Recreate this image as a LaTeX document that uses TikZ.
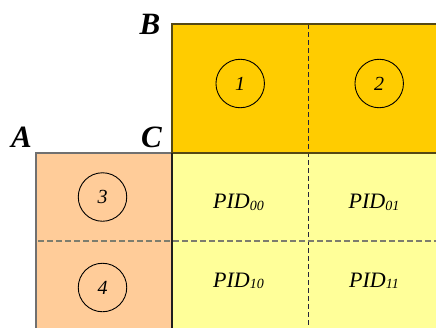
\documentclass[tikz,border=0pt]{standalone}
\usepackage{fontspec}
\setmainfont{Liberation Serif}
\begin{document}
\begin{tikzpicture}[x=1pt,y=-1pt,
  corner/.style={font=\fontsize{31}{31}\selectfont\bfseries\itshape, inner sep=0pt, anchor=base},
  marker/.style={draw=black, line width=0.9pt, circle, minimum size=48.5pt, inner sep=0pt,
                 font=\fontsize{20}{20}\selectfont\itshape},
  pid/.style={inner sep=0pt, anchor=base},
  goldedge/.style={draw={rgb,255:red,85;green,72;blue,20}, line width=1.8pt},
  greyedge/.style={draw={rgb,255:red,112;green,112;blue,112}, line width=1.8pt},
  darkedge/.style={draw={rgb,255:red,30;green,30;blue,30}, line width=1.5pt},
  coldash/.style={draw={rgb,255:red,35;green,35;blue,60}, line width=1.3pt, dash pattern=on 5pt off 3pt},
  rowdash/.style={draw={rgb,255:red,125;green,125;blue,110}, line width=2pt, dash pattern=on 6pt off 3pt}
]
\definecolor{gold}{RGB}{255,204,0}
\definecolor{peach}{RGB}{255,204,153}
\definecolor{paleyellow}{RGB}{255,255,153}
\newcommand{\pidtext}[1]{{\fontsize{22}{22}\selectfont\itshape PID}\raisebox{-1.8pt}{\fontsize{14}{14}\selectfont\itshape #1}}
\useasboundingbox (0,0) rectangle (436,327);

% filled regions
\fill[gold] (172,24) rectangle (440,153);
\fill[peach] (36,153) rectangle (172,330);
\fill[paleyellow] (172,153) rectangle (440,330);

% partition lines
\draw[coldash] (308.5,24) -- (308.5,330);
\draw[rowdash] (38,240.5) -- (440,240.5);

% region borders
\draw[greyedge] (36,330) -- (36,153) -- (172,153);
\draw[goldedge] (440,24) -- (172,24) -- (172,153);
\draw[goldedge] (172,153) -- (440,153);
\draw[darkedge] (172,153) -- (172,330);

% corner labels
\node[corner] (B) at (150,34.3) {B};
\node[corner] (A) at (21.5,147.5) {A};
\node[corner] (C) at (151.5,147.5) {C};

% numbered markers
\node[marker] (m1) at (240.2,83.5) {1};
\node[marker] (m2) at (379.2,83.5) {2};
\node[marker] (m3) at (102.5,197) {3};
\node[marker] (m4) at (102.5,287.5) {4};

% PID cells
\node[pid] (p00) at (238.5,208.3) {\pidtext{00}};
\node[pid] (p01) at (374,208.3) {\pidtext{01}};
\node[pid] (p10) at (238.5,287) {\pidtext{10}};
\node[pid] (p11) at (374,287) {\pidtext{11}};
\end{tikzpicture}
\end{document}
